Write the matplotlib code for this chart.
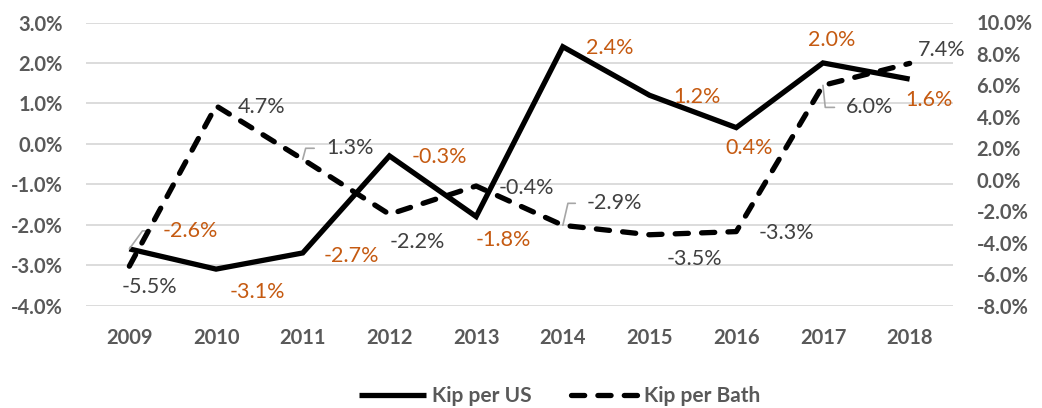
import matplotlib
matplotlib.use("Agg")
import matplotlib.pyplot as plt

years = ["2009", "2010", "2011", "2012", "2013", "2014", "2015", "2016", "2017", "2018"]
kip_per_us = [-2.6, -3.1, -2.7, -0.3, -1.8, 2.4, 1.2, 0.4, 2.0, 1.6]
kip_per_bath = [-5.5, 4.7, 1.3, -2.2, -0.4, -2.9, -3.5, -3.3, 6.0, 7.4]

left_ticks = [-4, -3, -2, -1, 0, 1, 2, 3]
right_ticks = [-8, -6, -4, -2, 0, 2, 4, 6, 8, 10]

# label offsets in pixels (dx, dy up)
us_offsets = [(61, 18), (41, -23), (49, -3), (50, -1), (27, -23), (47, -1), (47, -2), (13, -20), (9, 23), (19, -21)]
bath_offsets = [(20, -21), (46, -1), (47, 11), (28, -28), (50, -2), (52, 22), (45, -24), (50, -1), (47, -22), (32, 13)]
us_leaders = {0: 54}
bath_leaders = {2: 75, 5: 77, 8: -84}

plt.rcParams['font.family'] = ['Lato', 'DejaVu Sans']

W, H = 1042, 408
fig = plt.figure(figsize=(W / 100, H / 100), dpi=100)
ax = fig.add_axes([86 / W, 1 - 305.5 / H, 867 / W, 283 / H])
ax2 = ax.twinx()

x = list(range(len(years)))
grey_txt = "#595959"
orange = "#C55A11"
dark = "#404040"
lead_col = "#A6A6A6"

ax.set_xlim(-0.5, len(years) - 0.5)
ax.set_ylim(-4, 3)
ax2.set_ylim(-8, 10)
ax.set_yticks(left_ticks)
ax.set_yticklabels([f"{v:.1f}%" for v in left_ticks])
ax2.set_yticks(right_ticks)
ax2.set_yticklabels([f"{v:.1f}%" for v in right_ticks])
ax.set_xticks(x)
ax.set_xticklabels(years)

ax.grid(axis='y', color="#D9D9D9", linewidth=1.3)
ax.set_axisbelow(True)
for a in (ax, ax2):
    for s in a.spines.values():
        s.set_visible(False)
ax.tick_params(axis='y', length=0, pad=16.5, labelsize=14.5, labelcolor=grey_txt)
ax.tick_params(axis='x', length=0, pad=16.5, labelsize=14.5, labelcolor=grey_txt)
ax2.tick_params(axis='y', length=0, pad=17, labelsize=14.5, labelcolor=grey_txt)
for lab in ax.get_xticklabels() + ax.get_yticklabels() + ax2.get_yticklabels():
    lab.set_fontweight('bold')

l1, = ax.plot(x, kip_per_us, color="black", linewidth=3.8, solid_joinstyle='miter',
              solid_capstyle='butt', label="Kip per US", zorder=3)
l2, = ax2.plot(x, kip_per_bath, color="black", linewidth=3.8, dashes=(2.5, 2.5),
               dash_capstyle='round', label="Kip per Bath", zorder=3)


def add_labels(a, vals, offs, leaders, color):
    for i, (v, (dx, dy)) in enumerate(zip(vals, offs)):
        kw = {}
        if i in leaders:
            kw['arrowprops'] = dict(arrowstyle='-', color=lead_col, linewidth=1.2,
                                    connectionstyle=f"angle,angleA=0,angleB={leaders[i]},rad=0",
                                    shrinkA=6.5, shrinkB=0, relpos=(0, 0.5))
        a.annotate(f"{v:.1f}%", xy=(i, v), xytext=(dx, dy), textcoords='offset pixels',
                   ha='center', va='center', fontsize=15.5, color=color, zorder=5,
                   annotation_clip=False, **kw)


add_labels(ax, kip_per_us, us_offsets, us_leaders, orange)
add_labels(ax2, kip_per_bath, bath_offsets, bath_leaders, dark)

leg = fig.legend(handles=[l1, l2], loc='center', bbox_to_anchor=(560 / W, 1 - 396 / H),
                 ncol=2, frameon=False, handlelength=3.2, handletextpad=0.3,
                 columnspacing=1.9, prop={'size': 15, 'weight': 'bold'})
for t in leg.get_texts():
    t.set_color(grey_txt)

fig.savefig("out.png", dpi=100)
